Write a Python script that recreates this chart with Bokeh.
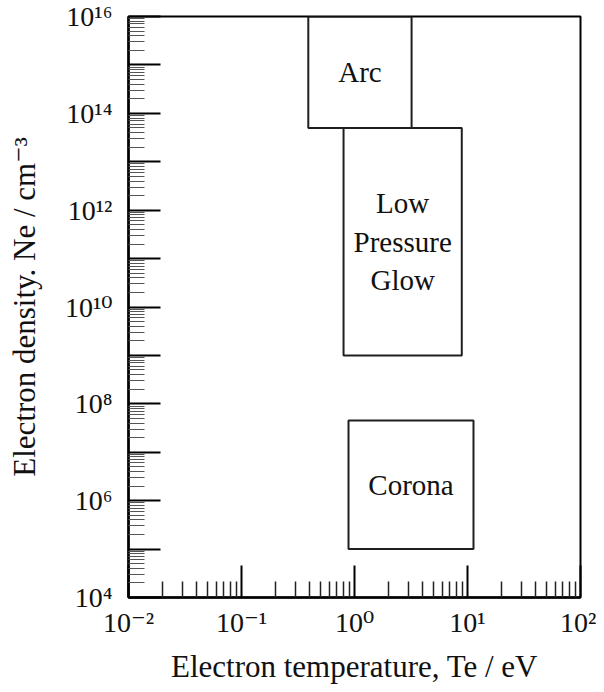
import math
from bokeh.plotting import figure
from bokeh.models import FixedTicker
from bokeh.core.properties import value
from bokeh.embed import file_html
from bokeh.resources import INLINE

# ---- data ----
x_decades = [-2, -1, 0, 1, 2]          # electron temperature decades (eV)
y_decades = list(range(4, 17))         # electron density decades (cm^-3)
y_labelled = [4, 6, 8, 10, 12, 14, 16]

regions = ["Arc", "Low\nPressure\nGlow", "Corona"]
te_low = [0.39, 0.80, 0.885]
te_high = [3.2, 8.9, 11.3]
ne_low = [5e13, 1e9, 1e5]
ne_high = [1e16, 5e13, 4.5e7]

x_title = "Electron temperature, Te / eV"
y_title = "Electron density. Ne / cm\u207b\u00b3"

FONT = "Liberation Serif, DejaVu Serif, serif"
INK = "#111111"

SUP = {"0": "\u2070", "1": "\u00b9", "2": "\u00b2", "3": "\u00b3", "4": "\u2074",
       "5": "\u2075", "6": "\u2076", "7": "\u2077", "8": "\u2078", "9": "\u2079",
       "-": "\u207b"}


def power_label(k):
    return "10" + "".join(SUP[c] for c in str(k))


xmin, xmax = 10.0 ** x_decades[0], 10.0 ** x_decades[-1]
ymin, ymax = 10.0 ** y_decades[0], 10.0 ** y_decades[-1]

p = figure(width=596, height=688, x_axis_type="log", y_axis_type="log",
           x_range=(xmin, xmax), y_range=(ymin, ymax),
           output_backend="svg", toolbar_location=None,
           min_border_left=128, min_border_right=16,
           min_border_top=16, min_border_bottom=91)

p.background_fill_color = "white"
p.border_fill_color = "white"
p.outline_line_color = "black"
p.outline_line_width = 2
p.xgrid.visible = False
p.ygrid.visible = False

# ticks
p.xaxis.ticker = FixedTicker(
    ticks=[10.0 ** k for k in x_decades],
    minor_ticks=[m * 10.0 ** k for k in x_decades[:-1] for m in range(2, 10)])
p.yaxis.ticker = FixedTicker(
    ticks=[10.0 ** k for k in y_decades],
    minor_ticks=[m * 10.0 ** k for k in y_decades[:-1] for m in range(2, 10)])

p.xaxis.major_label_overrides = {10.0 ** k: power_label(k) for k in x_decades}
p.yaxis.major_label_overrides = {
    10.0 ** k: (power_label(k) if k in y_labelled else "") for k in y_decades}

for ax in (p.xaxis[0], p.yaxis[0]):
    ax.axis_line_color = "black"
    ax.axis_line_width = 2.5
    ax.major_tick_in = 32
    ax.major_tick_out = 0
    ax.minor_tick_in = 16
    ax.minor_tick_out = 0
    ax.major_tick_line_color = "black"
    ax.major_tick_line_width = 2
    ax.major_label_text_font = FONT
    ax.major_label_text_font_size = "28px"
    ax.major_label_text_color = INK
    ax.axis_label_text_font = FONT
    ax.axis_label_text_font_size = "31px"
    ax.axis_label_text_font_style = "normal"
    ax.axis_label_text_color = INK

p.xaxis.major_label_standoff = 9
p.yaxis.major_label_standoff = 16
p.xaxis.axis_label = x_title
p.yaxis.axis_label = y_title
p.xaxis.axis_label_standoff = 8
p.yaxis.axis_label_standoff = 20

p.xaxis.minor_tick_line_color = "#222222"
p.xaxis.minor_tick_line_width = 1.5
p.yaxis.minor_tick_line_color = "#555555"
p.yaxis.minor_tick_line_width = 1

# region boxes
p.quad(left=te_low, right=te_high, bottom=ne_low, top=ne_high,
       fill_color=None, line_color="#1f1f1f", line_width=2)

cx = [math.sqrt(a * b) for a, b in zip(te_low, te_high)]
cy = [math.sqrt(a * b) for a, b in zip(ne_low, ne_high)]
p.text(x=cx, y=cy, text=regions, text_font=value(FONT), text_font_size="29px",
       text_align="center", text_baseline="middle", text_line_height=1.2,
       text_color=INK)

open("out.html", "w").write(file_html(p, INLINE))
